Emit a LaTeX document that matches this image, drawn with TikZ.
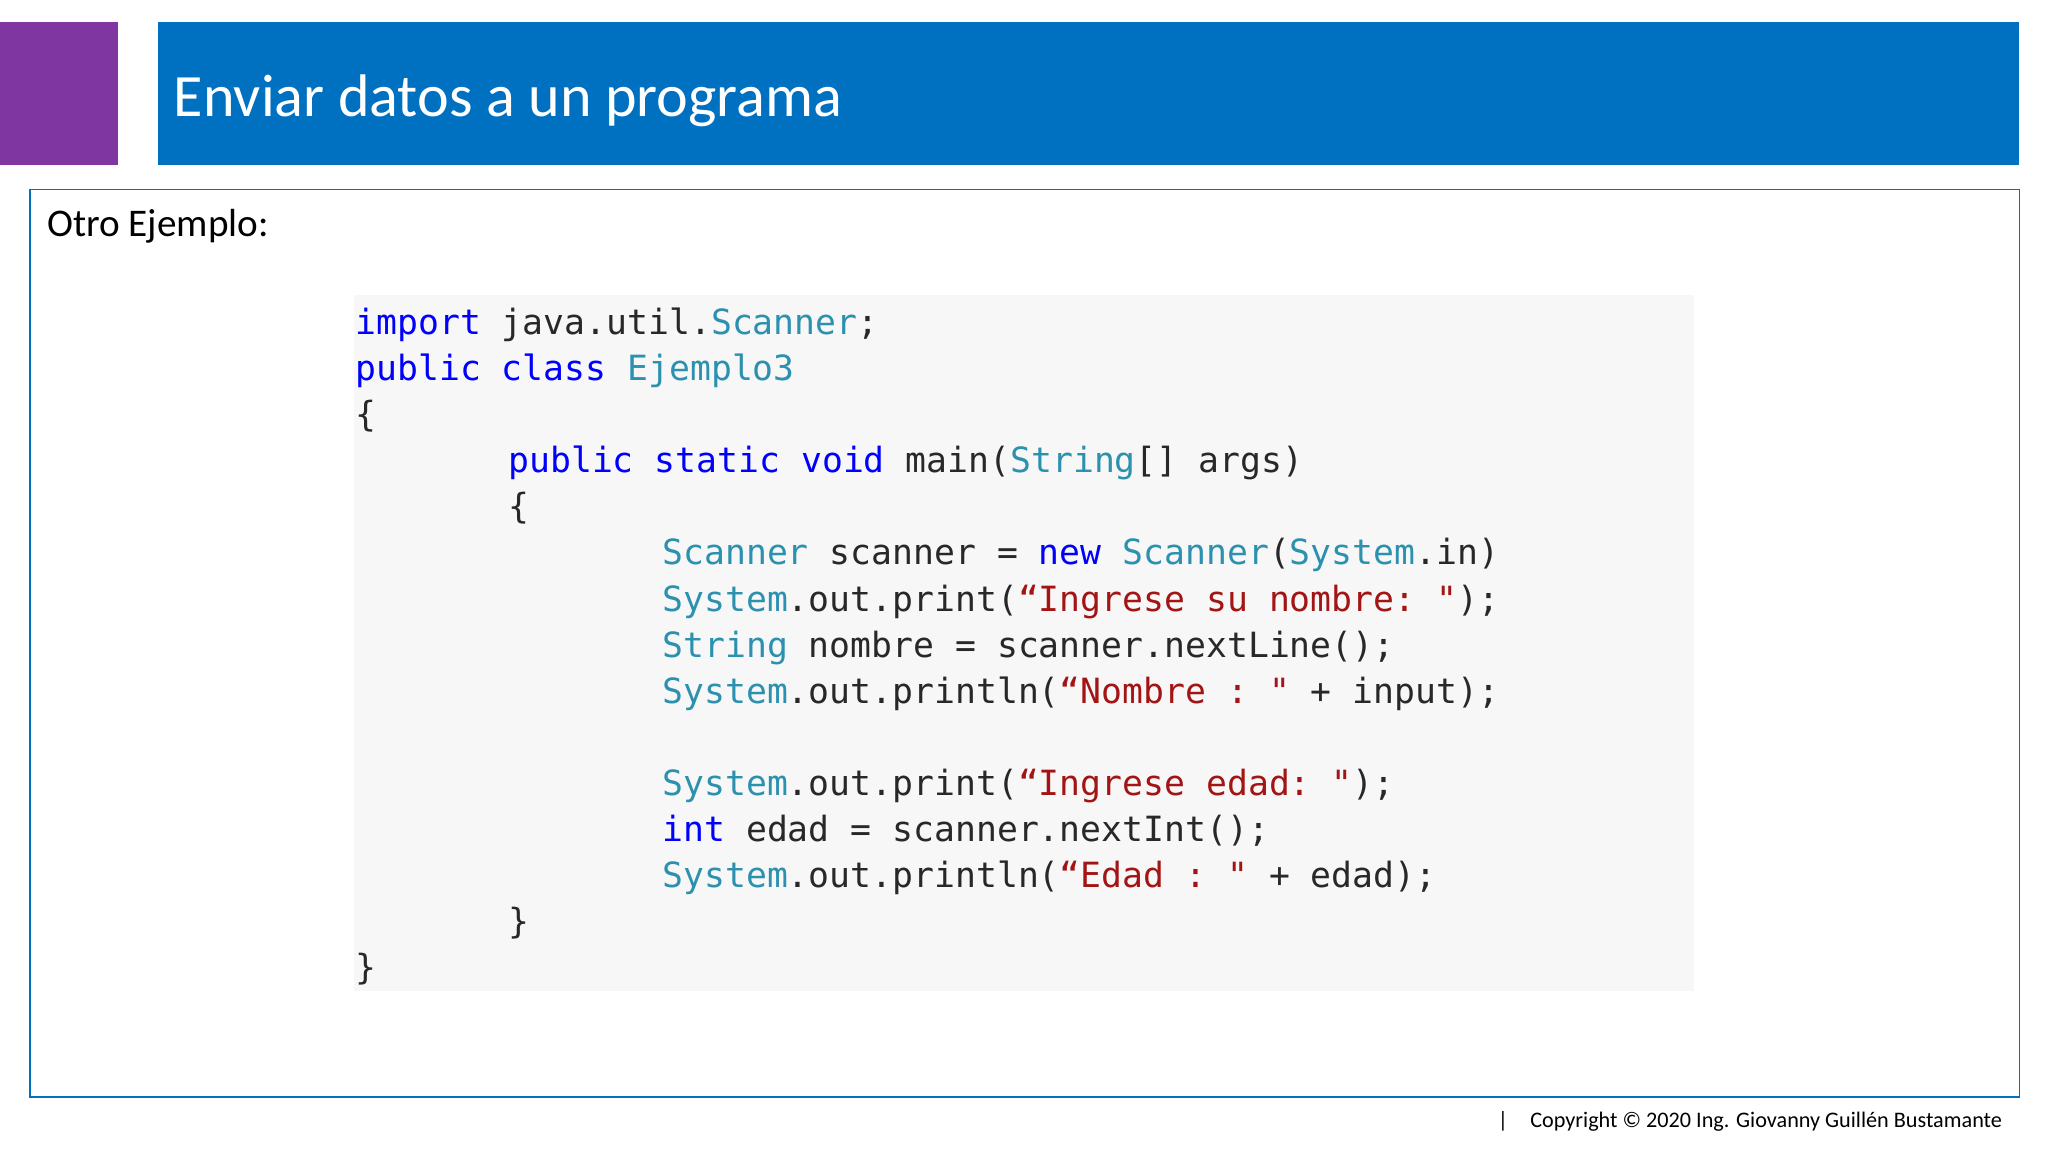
\documentclass[tikz,border=0pt]{standalone}
\usepackage{fontspec}
\setmainfont{Carlito}
\setmonofont{DejaVu Sans Mono}
\definecolor{barblue}{RGB}{0,112,192}
\definecolor{purp}{RGB}{128,54,160}
\definecolor{codebg}{RGB}{247,247,247}
\definecolor{kwc}{RGB}{0,0,255}
\definecolor{tyc}{RGB}{43,145,175}
\definecolor{stc}{RGB}{163,21,21}
\definecolor{txc}{RGB}{40,40,40}
\newcommand{\kw}[1]{\textcolor{kwc}{#1}}
\newcommand{\ty}[1]{\textcolor{tyc}{#1}}
\newcommand{\st}[1]{\textcolor{stc}{#1}}
\begin{document}
\begin{tikzpicture}[x=1pt,y=-1pt,
  code/.style={anchor=base west,inner sep=0pt,text=txc,font=\ttfamily\fontsize{26.6}{30}\selectfont}]
\useasboundingbox (0,0) rectangle (1568,882);
\fill[white] (0,0) rectangle (1568,882);
\fill[purp] (0,17) rectangle (90,126);
\fill[barblue] (121,17) rectangle (1546,126);
\node[anchor=base west,inner sep=0pt,text=white,font=\fontsize{46}{50}\selectfont] (title) at (133,89) {Enviar datos a un programa};
\draw[barblue,line width=1.2pt] (23,145) rectangle (1546,840);
\node[anchor=base west,inner sep=0pt,font=\fontsize{30}{34}\selectfont] (sub) at (36,181) {Otro Ejemplo:};
\fill[codebg] (271,226) rectangle (1297,759);
\def\lh{35.3}
\node[code] (l1) at (272,256) {\kw{import} java.util.\ty{Scanner};};
\node[code] (l2) at (272,256+\lh) {\kw{public} \kw{class} \ty{Ejemplo3}};
\node[code] (l3) at (272,256+2*\lh) {\{};
\node[code] (l4) at (389,256+3*\lh) {\kw{public} \kw{static} \kw{void} main(\ty{String}[] args)};
\node[code] (l5) at (389,256+4*\lh) {\{};
\node[code] (l6) at (507,256+5*\lh) {\ty{Scanner} scanner = \kw{new} \ty{Scanner}(\ty{System}.in)};
\node[code] (l7) at (507,256+6*\lh) {\ty{System}.out.print(\st{“Ingrese su nombre: "});};
\node[code] (l8) at (507,256+7*\lh) {\ty{String} nombre = scanner.nextLine();};
\node[code] (l9) at (507,256+8*\lh) {\ty{System}.out.println(\st{“Nombre : "} + input);};
\node[code] (l10) at (507,256+10*\lh) {\ty{System}.out.print(\st{“Ingrese edad: "});};
\node[code] (l11) at (507,256+11*\lh) {\kw{int} edad = scanner.nextInt();};
\node[code] (l12) at (507,256+12*\lh) {\ty{System}.out.println(\st{“Edad : "} + edad);};
\node[code] (l13) at (389,256+13*\lh) {\}};
\node[code] (l14) at (272,256+14*\lh) {\}};
\node[anchor=base east,inner sep=0pt,font=\fontsize{17}{20}\selectfont] (copy) at (1533,863) {|\quad Copyright © 2020 Ing. Giovanny Guillén Bustamante};
\end{tikzpicture}
\end{document}
